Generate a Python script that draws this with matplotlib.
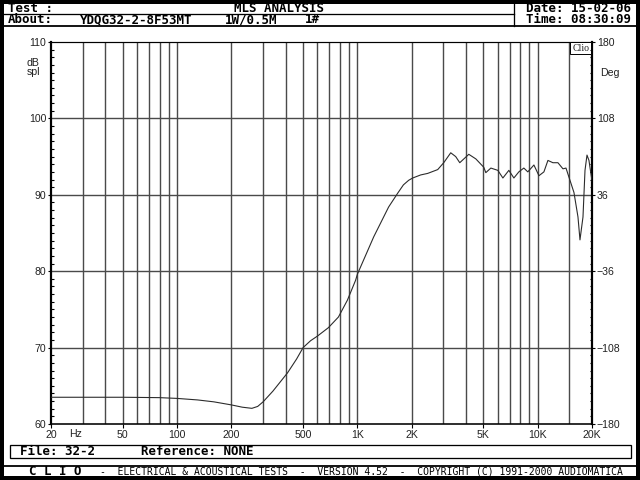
import numpy as np
import matplotlib
matplotlib.use("Agg")
import matplotlib.pyplot as plt
from matplotlib.patches import Rectangle

# frequency response
freq = [20, 30, 50, 80, 100, 130, 160, 200, 230, 260, 280, 300, 340, 410, 460,
        500, 550, 600, 690, 785, 880, 977, 1000, 1232, 1490, 1672, 1800, 1925,
        2027, 2244, 2454, 2789, 3012, 3294, 3510, 3696, 4148, 4537, 5024, 5154,
        5497, 6010, 6410, 6918, 7376, 7858, 8376, 8812, 9526, 10160, 10824,
        11392, 12140, 12942, 13804, 14348, 14906, 15886, 16720, 17154, 17826,
        18290, 18760, 19240, 20000]
spl = [63.5, 63.5, 63.5, 63.45, 63.35, 63.15, 62.9, 62.5, 62.2, 62.05, 62.3,
       62.9, 64.3, 66.7, 68.5, 70.0, 70.9, 71.5, 72.6, 74.0, 76.2, 78.8, 79.6,
       84.5, 88.4, 90.2, 91.3, 91.9, 92.2, 92.6, 92.8, 93.3, 94.2, 95.5, 95.0,
       94.2, 95.3, 94.7, 93.6, 92.9, 93.5, 93.2, 92.2, 93.2, 92.2, 93.0, 93.5,
       93.0, 93.9, 92.5, 93.0, 94.5, 94.2, 94.2, 93.4, 93.5, 92.3, 90.3, 87.1,
       84.1, 87.1, 93.2, 95.2, 94.5, 91.8]

xticks = [20, 50, 100, 200, 500, 1000, 2000, 5000, 10000, 20000]
xlabels = ["20", "50", "100", "200", "500", "1K", "2K", "5K", "10K", "20K"]
yticks = [60, 70, 80, 90, 100, 110]
deg_ticks = [-180, -108, -36, 36, 108, 180]

W, H = 640, 480
PX = 0.72  # points per pixel at dpi 100
mono = "DejaVu Sans Mono"
sans = "Liberation Sans"
LBL = 7.6

fig = plt.figure(figsize=(6.4, 4.8), dpi=100)

# overlay in pixel coordinates for the frame / header / footer
ov = fig.add_axes([0, 0, 1, 1])
ov.set_xlim(0, W)
ov.set_ylim(H, 0)
ov.axis("off")

ov.add_patch(Rectangle((1.8, 1.8), W - 3.6, H - 3.6, fill=False, ec="black", lw=4 * PX))
ov.plot([3, 513.5], [13.5, 13.5], color="black", lw=1.3 * PX)
ov.plot([3, 637], [25.5, 25.5], color="black", lw=1.8 * PX)
ov.plot([513.5, 513.5], [0, 25.5], color="black", lw=1.3 * PX)

hdr = dict(family=mono, weight="bold", size=9.0, va="center", color="black")
ov.text(8, 8.2, "Test :", **hdr)
ov.text(279, 8.2, "MLS ANALYSIS", ha="center", **hdr)
ov.text(8, 19.8, "About:", **hdr)
ov.text(80, 19.8, "YDQG32-2-8F53MT", **hdr)
ov.text(225, 19.8, "1W/0.5M", **hdr)
ov.text(305, 19.8, "1#", **hdr)
ov.text(631, 8.2, "Date: 15-02-06", ha="right", **hdr)
ov.text(631, 19.8, "Time: 08:30:09", ha="right", **hdr)

ov.add_patch(Rectangle((10, 445), 621, 13, fill=False, ec="black", lw=1.3 * PX))
ov.text(20, 451.8, "File: 32-2", **hdr)
ov.text(141, 451.8, "Reference: NONE", **hdr)

ov.plot([3, 637], [466, 466], color="black", lw=1.8 * PX)
ov.text(29, 471.8, "C L I O", **hdr)
ov.text(100, 471.8, "-  ELECTRICAL & ACOUSTICAL TESTS  -  VERSION 4.52  -  "
        "COPYRIGHT (C) 1991-2000 AUDIOMATICA",
        family=mono, size=7.03, va="center", color="black")

# side labels
lab = dict(family=sans, size=LBL, color="#222222", va="center")
ov.text(33, 63, "dB", ha="center", **lab)
ov.text(33, 72, "spl", ha="center", **lab)
ov.text(610, 73, "Deg", ha="center", **lab)
ov.text(76, 434, "Hz", ha="center", **lab)

# main plot
ax = fig.add_axes([51 / W, (H - 424) / H, 541 / W, 382 / H])
ax.set_xscale("log")
ax.set_xlim(20, 20000)
ax.set_ylim(60, 110)

grid_f = [k * 10 ** d for d in range(1, 4) for k in range(1, 10)]
grid_f = [f for f in grid_f if 20 < f] + [10000, 15000]
for f in grid_f:
    ax.axvline(f, color="#4a4a4a", lw=1.4 * PX, zorder=1)
for v in yticks[1:-1]:
    ax.axhline(v, color="#4a4a4a", lw=1.4 * PX, zorder=1)

ax.plot(freq, spl, color="#2b2b2b", lw=1.1 * PX, zorder=3)

ax.set_xticks(xticks)
ax.set_xticklabels(xlabels)
ax.xaxis.set_minor_locator(matplotlib.ticker.NullLocator())
ax.set_yticks(yticks)
ax.set_yticks(np.arange(60, 111, 1), minor=True)
ax.tick_params(axis="x", which="major", direction="out", length=3, width=0.8,
               pad=1.2, labelsize=LBL, labelcolor="#222222")
ax.tick_params(axis="y", which="major", direction="out", length=2.5, width=0.8,
               pad=1, labelsize=LBL, labelcolor="#222222")
ax.tick_params(axis="y", which="minor", direction="in", length=1.8, width=0.8)
for lbl in ax.get_xticklabels() + ax.get_yticklabels():
    lbl.set_family(sans)

ax.spines["left"].set_linewidth(2.2 * PX)
ax.spines["bottom"].set_linewidth(1.6 * PX)
ax.spines["top"].set_linewidth(1.2 * PX)
ax.spines["right"].set_linewidth(2.2 * PX)

ax2 = ax.twinx()
ax2.set_ylim(-180, 180)
ax2.set_yticks(deg_ticks)
ax2.set_yticks(np.arange(-180, 181, 7.2), minor=True)
ax2.tick_params(axis="y", which="major", direction="out", length=2.5, width=0.8,
                pad=1, labelsize=LBL, labelcolor="#222222")
ax2.tick_params(axis="y", which="minor", direction="in", length=1.8, width=0.8)
for lbl in ax2.get_yticklabels():
    lbl.set_family(sans)
for s in ax2.spines.values():
    s.set_visible(False)

ax.text(0.995, 0.996, "Clio", transform=ax.transAxes, ha="right", va="top",
        family="Liberation Serif", size=7, color="#222222", zorder=5,
        bbox=dict(boxstyle="square,pad=0.2", fc="white", ec="black", lw=0.7))

fig.savefig("out.png", dpi=100)
